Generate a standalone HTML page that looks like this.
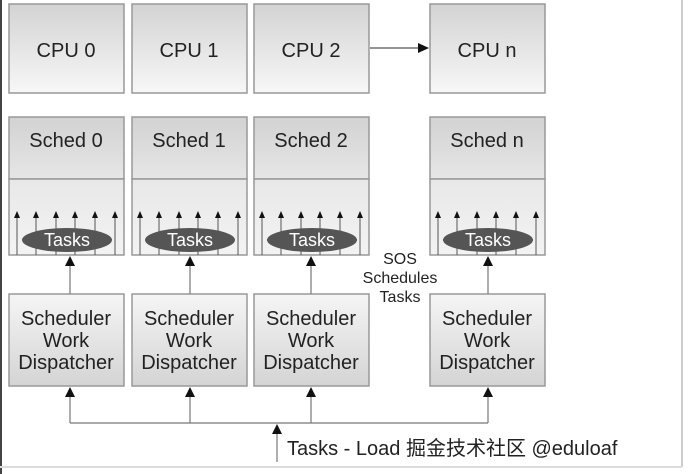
<!DOCTYPE html>
<html><head><meta charset="utf-8"><style>
html,body{margin:0;padding:0;background:#fff;}
svg{display:block;font-family:"Liberation Sans","Noto Sans CJK SC",sans-serif;}
</style></head><body>
<svg width="690" height="474" viewBox="0 0 690 474" xmlns="http://www.w3.org/2000/svg">
<defs>
<linearGradient id="g1" x1="0" y1="0" x2="0" y2="1"><stop offset="0" stop-color="#d3d3d3"/><stop offset="1" stop-color="#f7f7f7"/></linearGradient>
<linearGradient id="g2" x1="0" y1="0" x2="0" y2="1"><stop offset="0" stop-color="#d2d2d2"/><stop offset="1" stop-color="#e6e6e6"/></linearGradient>
<linearGradient id="g3" x1="0" y1="0" x2="0" y2="1"><stop offset="0" stop-color="#e8e8e8"/><stop offset="1" stop-color="#f3f3f3"/></linearGradient>
<linearGradient id="g4" x1="0" y1="0" x2="0" y2="1"><stop offset="0" stop-color="#f5f5f5"/><stop offset="1" stop-color="#d4d4d4"/></linearGradient>
<path id="sa" d="M-3,7 L0,0 L3,7 Z" fill="#111"/>
<path id="ba" d="M-5,10 L0,0 L5,10 Z" fill="#111"/>
</defs>
<rect x="0" y="0" width="2" height="474" fill="#444"/>
<line x1="682" y1="0" x2="682" y2="467" stroke="#ccc" stroke-width="2"/>
<line x1="0" y1="467" x2="682" y2="467" stroke="#ddd" stroke-width="2"/>

<g stroke="#999" stroke-width="1.5">
<rect x="9" y="4" width="115" height="89" fill="url(#g1)"/>
<rect x="132" y="4" width="115" height="89" fill="url(#g1)"/>
<rect x="254" y="4" width="115" height="89" fill="url(#g1)"/>
<rect x="430" y="4" width="115" height="89" fill="url(#g1)"/>
</g>
<g font-size="20" fill="#222" text-anchor="middle">
<text x="66" y="57">CPU 0</text><text x="189" y="57">CPU 1</text><text x="311" y="57">CPU 2</text><text x="487" y="57">CPU n</text>
</g>
<line x1="370" y1="48" x2="420" y2="48" stroke="#555" stroke-width="1.2"/>
<path d="M418,43 L429,48 L418,53 Z" fill="#111"/>

<g stroke="#999" stroke-width="1.5">
<rect x="9" y="117" width="115" height="62" fill="url(#g2)"/><rect x="9" y="179" width="115" height="76" fill="url(#g3)"/>
<rect x="132" y="117" width="115" height="62" fill="url(#g2)"/><rect x="132" y="179" width="115" height="76" fill="url(#g3)"/>
<rect x="254" y="117" width="115" height="62" fill="url(#g2)"/><rect x="254" y="179" width="115" height="76" fill="url(#g3)"/>
<rect x="430" y="117" width="115" height="62" fill="url(#g2)"/><rect x="430" y="179" width="115" height="76" fill="url(#g3)"/>
</g>
<g font-size="20" fill="#222" text-anchor="middle">
<text x="66" y="147">Sched 0</text><text x="189" y="147">Sched 1</text><text x="311" y="147">Sched 2</text><text x="487" y="147">Sched n</text>
</g>
<g stroke="#555" stroke-width="1">
<path d="M17,255V216M36,255V216M56,255V216M75,255V216M95,255V216M115,255V216"/>
<path d="M140,255V216M159,255V216M179,255V216M198,255V216M218,255V216M238,255V216"/>
<path d="M262,255V216M281,255V216M301,255V216M320,255V216M340,255V216M360,255V216"/>
<path d="M438,255V216M457,255V216M477,255V216M496,255V216M516,255V216M536,255V216"/>
</g>
<g>
<use href="#sa" x="17" y="211"/><use href="#sa" x="36" y="211"/><use href="#sa" x="56" y="211"/><use href="#sa" x="75" y="211"/><use href="#sa" x="95" y="211"/><use href="#sa" x="115" y="211"/>
<use href="#sa" x="140" y="211"/><use href="#sa" x="159" y="211"/><use href="#sa" x="179" y="211"/><use href="#sa" x="198" y="211"/><use href="#sa" x="218" y="211"/><use href="#sa" x="238" y="211"/>
<use href="#sa" x="262" y="211"/><use href="#sa" x="281" y="211"/><use href="#sa" x="301" y="211"/><use href="#sa" x="320" y="211"/><use href="#sa" x="340" y="211"/><use href="#sa" x="360" y="211"/>
<use href="#sa" x="438" y="211"/><use href="#sa" x="457" y="211"/><use href="#sa" x="477" y="211"/><use href="#sa" x="496" y="211"/><use href="#sa" x="516" y="211"/><use href="#sa" x="536" y="211"/>
</g>
<g fill="#555">
<ellipse cx="67" cy="240" rx="45" ry="12"/><ellipse cx="190" cy="240" rx="45" ry="12"/><ellipse cx="312" cy="240" rx="45" ry="12"/><ellipse cx="488" cy="240" rx="45" ry="12"/>
</g>
<g font-size="18" fill="#fff" text-anchor="middle">
<text x="67" y="246">Tasks</text><text x="190" y="246">Tasks</text><text x="312" y="246">Tasks</text><text x="488" y="246">Tasks</text>
</g>

<g stroke="#999" stroke-width="1.5">
<rect x="9" y="294" width="115" height="92" fill="url(#g4)"/>
<rect x="132" y="294" width="115" height="92" fill="url(#g4)"/>
<rect x="254" y="294" width="115" height="92" fill="url(#g4)"/>
<rect x="430" y="294" width="115" height="92" fill="url(#g4)"/>
</g>
<g font-size="20" fill="#222" text-anchor="middle">
<text x="66" y="325">Scheduler</text><text x="66" y="347">Work</text><text x="66" y="369">Dispatcher</text>
<text x="189" y="325">Scheduler</text><text x="189" y="347">Work</text><text x="189" y="369">Dispatcher</text>
<text x="311" y="325">Scheduler</text><text x="311" y="347">Work</text><text x="311" y="369">Dispatcher</text>
<text x="487" y="325">Scheduler</text><text x="487" y="347">Work</text><text x="487" y="369">Dispatcher</text>
</g>
<g font-size="16" fill="#222" text-anchor="middle">
<text x="400" y="264">SOS</text><text x="400" y="283">Schedules</text><text x="400" y="302">Tasks</text>
</g>

<g stroke="#777" stroke-width="1.2" fill="none">
<path d="M70,294V264M190,294V264M311,294V264M488,294V264"/>
<path d="M70,423V395M190,423V395M311,423V395M488,423V395"/>
<path d="M70,423H488"/>
<path d="M277,462V432"/>
</g>
<g>
<use href="#ba" x="70" y="256"/><use href="#ba" x="190" y="256"/><use href="#ba" x="311" y="256"/><use href="#ba" x="488" y="256"/>
<use href="#ba" x="70" y="387"/><use href="#ba" x="190" y="387"/><use href="#ba" x="311" y="387"/><use href="#ba" x="488" y="387"/>
<use href="#ba" x="277" y="424"/>
</g>
<text x="287" y="455" font-size="20" fill="#222">Tasks - Load 掘金技术社区 @eduloaf</text>
</svg>
</body></html>
